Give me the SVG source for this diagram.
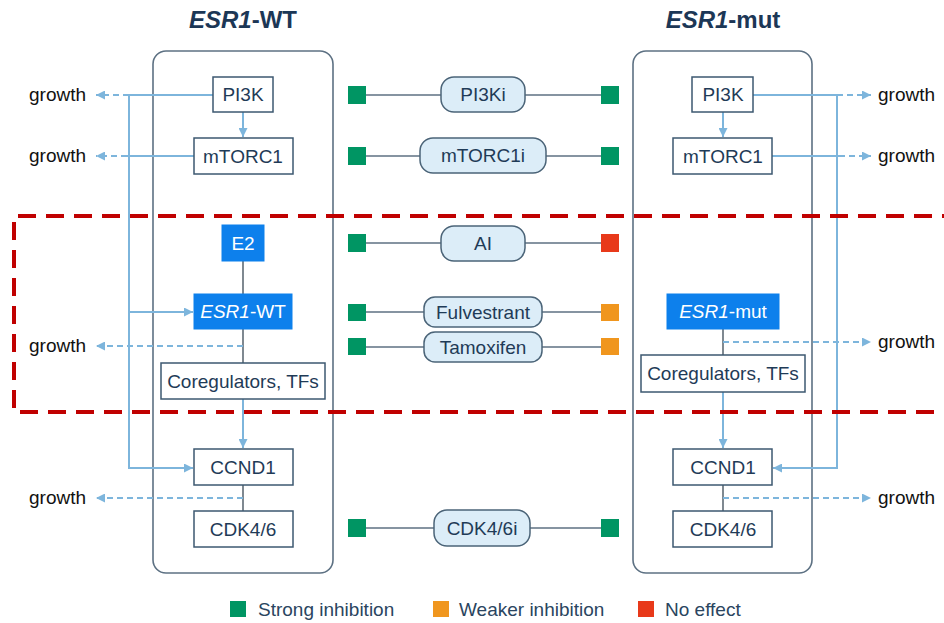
<svg xmlns="http://www.w3.org/2000/svg" width="944" height="623" viewBox="0 0 944 623">
<defs>
<marker id="ah" viewBox="0 0 10 10" refX="10" refY="5" markerWidth="9" markerHeight="9" markerUnits="userSpaceOnUse" orient="auto">
<path d="M0,0 L10,5 L0,10 z" fill="#7db5dc"/>
</marker>
</defs>
<style>
text{font-family:"Liberation Sans",Arial,sans-serif;}
.title{font-size:24px;font-weight:bold;fill:#1c3756;text-anchor:middle;}
.panel{fill:none;stroke:#5d7183;stroke-width:1.6;}
.box{fill:#fff;stroke:#3d5870;stroke-width:1.5;}
.blue{fill:#0d80ec;stroke:#0d80ec;stroke-width:1;}
.pill{fill:#dcedf8;stroke:#4b6478;stroke-width:1.5;}
.nt{font-size:19px;fill:#1f3b57;text-anchor:middle;}
.wt{font-size:19px;fill:#fff;text-anchor:middle;}
.gr{font-size:19px;fill:#111;}
.lg{font-size:19px;fill:#2a4560;}
.arr{fill:none;stroke:#7db5dc;stroke-width:2;}
.dash{fill:none;stroke:#7db5dc;stroke-width:2;stroke-dasharray:6 4;}
.gl{fill:none;stroke:#5f6b75;stroke-width:1.6;}
.ml{fill:none;stroke:#5f7282;stroke-width:1.6;}
.sg{fill:#009563;}
.so{fill:#f0961e;}
.sr{fill:#e8391a;}
.red{fill:none;stroke:#c00000;stroke-width:4;stroke-dasharray:18 10;}
</style>

<text class="title" x="243" y="28"><tspan font-style="italic">ESR1</tspan>-WT</text>
<text class="title" x="723" y="28"><tspan font-style="italic">ESR1</tspan>-mut</text>

<rect class="panel" x="153" y="51" width="180" height="522" rx="13"/>
<rect class="panel" x="633" y="51" width="179" height="522" rx="13"/>

<g id="connectors">
<!-- left -->
<path class="arr" d="M213,95 H129"/>
<path class="dash" d="M129,95 H96" marker-end="url(#ah)"/>
<path class="arr" d="M194,156 H127"/>
<path class="dash" d="M127,156 H96" marker-end="url(#ah)"/>
<path class="arr" d="M129,95 V468 H193" marker-end="url(#ah)"/>
<path class="arr" d="M129,312 H193" marker-end="url(#ah)"/>
<path class="arr" d="M243,112 V137" marker-end="url(#ah)"/>
<path class="gl" d="M243,261 V294"/>
<path class="gl" d="M243,329 V363"/>
<path class="dash" d="M243,346 H96" marker-end="url(#ah)"/>
<path class="arr" d="M243,399 V448" marker-end="url(#ah)"/>
<path class="gl" d="M243,485 V511"/>
<path class="dash" d="M243,498 H96" marker-end="url(#ah)"/>
<!-- right -->
<path class="arr" d="M753,95 H837"/>
<path class="dash" d="M837,95 H871" marker-end="url(#ah)"/>
<path class="arr" d="M772,156 H839"/>
<path class="dash" d="M839,156 H871" marker-end="url(#ah)"/>
<path class="arr" d="M837,95 V468 H773" marker-end="url(#ah)"/>
<path class="arr" d="M723,112 V137" marker-end="url(#ah)"/>
<path class="gl" d="M723,329 V355"/>
<path class="dash" d="M723,342 H871" marker-end="url(#ah)"/>
<path class="arr" d="M723,392 V448" marker-end="url(#ah)"/>
<path class="gl" d="M723,485 V511"/>
<path class="dash" d="M723,498 H871" marker-end="url(#ah)"/>
<!-- middle drug lines -->
<path class="ml" d="M366,95 H441 M525,95 H601"/>
<path class="ml" d="M366,156 H420 M546,156 H601"/>
<path class="ml" d="M366,243 H441 M525,243 H601"/>
<path class="ml" d="M366,312 H424 M542,312 H601"/>
<path class="ml" d="M366,347 H424 M542,347 H601"/>
<path class="ml" d="M366,528 H434 M530,528 H601"/>
</g>

<g id="growth-labels">
<text class="gr" x="29" y="101">growth</text>
<text class="gr" x="29" y="162">growth</text>
<text class="gr" x="29" y="352">growth</text>
<text class="gr" x="29" y="504">growth</text>
<text class="gr" x="878" y="101">growth</text>
<text class="gr" x="878" y="162">growth</text>
<text class="gr" x="878" y="348">growth</text>
<text class="gr" x="878" y="504">growth</text>
</g>

<g id="wt-pi3k"><rect class="box" x="213" y="77" width="60" height="35"/><text class="nt" x="243" y="101">PI3K</text></g>
<g id="wt-mtorc1"><rect class="box" x="194" y="138" width="99" height="36"/><text class="nt" x="243" y="163">mTORC1</text></g>
<g id="wt-e2"><rect class="blue" x="222" y="225" width="42" height="36"/><text class="wt" x="243" y="250">E2</text></g>
<g id="wt-esr1"><rect class="blue" x="194" y="294" width="98" height="35"/><text class="wt" x="243" y="318"><tspan font-style="italic">ESR1</tspan>-WT</text></g>
<g id="wt-coreg"><rect class="box" x="161" y="363" width="164" height="36"/><text class="nt" x="243" y="388">Coregulators, TFs</text></g>
<g id="wt-ccnd1"><rect class="box" x="194" y="449" width="99" height="36"/><text class="nt" x="243" y="474">CCND1</text></g>
<g id="wt-cdk"><rect class="box" x="194" y="511" width="99" height="36"/><text class="nt" x="243" y="536">CDK4/6</text></g>

<g id="mut-pi3k"><rect class="box" x="692" y="77" width="61" height="35"/><text class="nt" x="723" y="101">PI3K</text></g>
<g id="mut-mtorc1"><rect class="box" x="673" y="138" width="99" height="36"/><text class="nt" x="723" y="163">mTORC1</text></g>
<g id="mut-esr1"><rect class="blue" x="667" y="294" width="112" height="35"/><text class="wt" x="723" y="318"><tspan font-style="italic">ESR1</tspan>-mut</text></g>
<g id="mut-coreg"><rect class="box" x="641" y="355" width="164" height="37"/><text class="nt" x="723" y="380">Coregulators, TFs</text></g>
<g id="mut-ccnd1"><rect class="box" x="673" y="449" width="99" height="36"/><text class="nt" x="723" y="474">CCND1</text></g>
<g id="mut-cdk"><rect class="box" x="673" y="511" width="99" height="36"/><text class="nt" x="723" y="536">CDK4/6</text></g>

<g id="drug-pi3ki"><rect class="pill" x="441" y="77" width="84" height="35" rx="13"/><text class="nt" x="483" y="101">PI3Ki</text>
<rect class="sg" x="348" y="86" width="18" height="18"/><rect class="sg" x="601" y="86" width="18" height="18"/></g>
<g id="drug-mtorc1i"><rect class="pill" x="420" y="138" width="126" height="35" rx="13"/><text class="nt" x="483" y="162">mTORC1i</text>
<rect class="sg" x="348" y="147" width="18" height="18"/><rect class="sg" x="601" y="147" width="18" height="18"/></g>
<g id="drug-ai"><rect class="pill" x="441" y="226" width="84" height="35" rx="13"/><text class="nt" x="483" y="250">AI</text>
<rect class="sg" x="348" y="234" width="18" height="18"/><rect class="sr" x="601" y="234" width="18" height="18"/></g>
<g id="drug-fulv"><rect class="pill" x="424" y="297" width="118" height="30" rx="11"/><text class="nt" x="483" y="319">Fulvestrant</text>
<rect class="sg" x="348" y="304" width="18" height="17"/><rect class="so" x="601" y="304" width="18" height="17"/></g>
<g id="drug-tam"><rect class="pill" x="424" y="332" width="118" height="30" rx="11"/><text class="nt" x="483" y="354">Tamoxifen</text>
<rect class="sg" x="348" y="338" width="18" height="17"/><rect class="so" x="601" y="338" width="18" height="17"/></g>
<g id="drug-cdk"><rect class="pill" x="434" y="510" width="96" height="36" rx="13"/><text class="nt" x="482" y="535">CDK4/6i</text>
<rect class="sg" x="348" y="519" width="18" height="18"/><rect class="sg" x="601" y="519" width="18" height="18"/></g>

<path class="red" d="M960,216 H14 V412 H960"/>

<g id="legend">
<rect class="sg" x="230" y="601" width="16" height="16"/><text class="lg" x="258" y="616">Strong inhibition</text>
<rect class="so" x="433" y="601" width="16" height="16"/><text class="lg" x="459" y="616">Weaker inhibition</text>
<rect class="sr" x="638" y="601" width="16" height="16"/><text class="lg" x="665" y="616">No effect</text>
</g>
</svg>
